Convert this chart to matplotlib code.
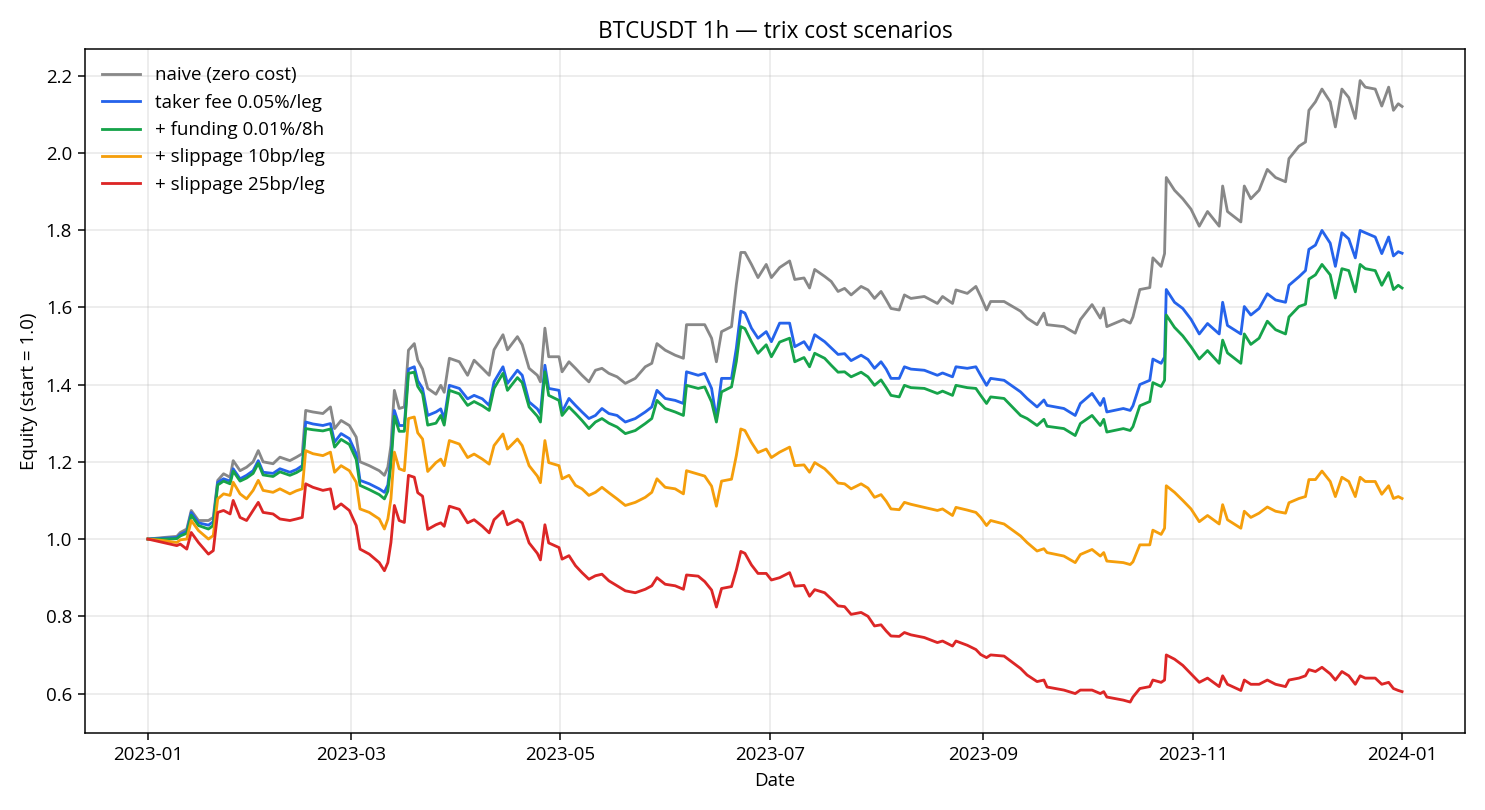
import pandas as pd
import matplotlib
matplotlib.use("Agg")
import matplotlib.pyplot as plt

plt.rcParams["font.family"] = ["Open Sans", "DejaVu Sans"]

# days since 2023-01-01
days = [0, 4.5, 8.4, 9.4, 11.3, 12.6, 14.7, 17.6, 19, 20.3, 22, 23.9, 24.8, 26.8, 28.7, 30.6,
        32.1, 33.5, 36.4, 38.4, 41.3, 43.2, 44.9, 45.9, 48, 50.9, 53.1, 54.3, 56.2, 58.6, 60.6,
        61.7, 64.4, 67.3, 68.8, 69.8, 70.7, 71.7, 73.1, 74.6, 75.8, 77.5, 78.5, 79.9, 81.4, 83.8,
        85.2, 86.2, 87.7, 90.6, 93, 94.9, 97.3, 99.3, 100.7, 103.3, 104.6, 107.5, 108.9, 110.9,
        113.3, 114.2, 115.5, 116.6,
        119.6, 120.5, 122.5, 124.4, 126.3, 128.3, 130.2, 132.1, 134.1, 136.5, 138.9, 141.8, 144.7,
        146.6, 148.1, 150.5, 153.4, 155.8,
        156.7, 160.1, 162, 164, 165.4, 166.9, 169.8, 171.2, 172.5, 173.7, 175.6, 177.5, 179.9,
        181.4, 183.8, 186.7, 188.2, 190.9, 192.5, 194,
        196.9, 198.8, 200.8, 202.7, 204.6, 207.5, 209.5, 211.4, 213.3, 214.8, 216.2, 218.6, 220.1,
        222, 225.9, 229.7, 231.2, 234.1, 235.1, 238.4, 240.9, 242.3, 244.0, 245.2, 249.1,
        253.9, 255.8, 258.7, 260.7, 261.6, 266.5, 269.8, 271.3, 274.7, 277.1, 278.1, 279, 283.8,
        285.8,
        286.6, 288.6, 291.5, 292.4, 294.8, 295.8, 296.3, 298.7, 301.1, 303.5, 305.9, 308.3, 311.7,
        312.7, 314.1, 318, 319, 320.9, 323.3, 325.7, 328.1, 331, 332, 334.9, 336.8, 337.8, 339.7,
        341.6, 344, 345.5, 347.4, 349.4, 351.3, 352.7, 354.2, 357.1, 359, 361, 362.4, 363.8, 364.9]

naive = [1.000, 1.004, 1.007, 1.017, 1.026, 1.074, 1.048, 1.048, 1.056, 1.152, 1.169, 1.160, 1.203,
         1.177, 1.186, 1.200, 1.229, 1.200, 1.195, 1.212, 1.203, 1.212, 1.221, 1.333, 1.329, 1.325,
         1.342, 1.286, 1.307, 1.294, 1.264, 1.200, 1.190, 1.177, 1.165, 1.186, 1.242, 1.385, 1.338,
         1.342, 1.489, 1.506, 1.463, 1.440, 1.390, 1.375,
         1.398, 1.380, 1.468, 1.459, 1.424, 1.463, 1.442, 1.424, 1.490, 1.529, 1.490, 1.524, 1.503,
         1.442, 1.424, 1.407, 1.546, 1.472,
         1.472, 1.433, 1.459, 1.442, 1.424, 1.407, 1.437, 1.442, 1.429, 1.420, 1.403, 1.416, 1.446,
         1.455, 1.506, 1.489, 1.476, 1.468,
         1.555, 1.555, 1.555, 1.520, 1.459, 1.537, 1.550, 1.659, 1.742, 1.742, 1.711, 1.677, 1.711,
         1.677, 1.703, 1.720, 1.672, 1.676, 1.650, 1.698,
         1.680, 1.667, 1.641, 1.649, 1.632, 1.654, 1.645, 1.623, 1.641, 1.619, 1.597, 1.593, 1.632,
         1.623, 1.628, 1.610, 1.628, 1.610, 1.645, 1.636, 1.654, 1.628, 1.593, 1.615, 1.615,
         1.590, 1.572, 1.555, 1.585, 1.555, 1.550, 1.533, 1.568, 1.607, 1.572, 1.598, 1.550, 1.568,
         1.559,
         1.575, 1.646, 1.651, 1.728, 1.706, 1.739, 1.936, 1.903, 1.881, 1.854, 1.810, 1.848, 1.810,
         1.914, 1.848, 1.821, 1.914, 1.881, 1.903, 1.957, 1.936, 1.925, 1.985, 2.017, 2.028, 2.110,
         2.132, 2.165, 2.132, 2.067, 2.165, 2.143, 2.089, 2.187, 2.170, 2.165, 2.121, 2.170, 2.110,
         2.127, 2.120]

taker = [1.000, 1.002, 1.004, 1.012, 1.020, 1.069, 1.042, 1.036, 1.045, 1.147, 1.156, 1.150, 1.182,
         1.156, 1.165, 1.177, 1.203, 1.173, 1.170, 1.182, 1.173, 1.180, 1.190, 1.303, 1.298, 1.294,
         1.299, 1.251, 1.273, 1.260, 1.221, 1.152, 1.143, 1.130, 1.121, 1.140, 1.208, 1.333, 1.294,
         1.294, 1.440, 1.446, 1.410, 1.390, 1.320, 1.329,
         1.337, 1.311, 1.398, 1.390, 1.363, 1.372, 1.363, 1.346, 1.407, 1.446, 1.403, 1.437, 1.424,
         1.355, 1.337, 1.324, 1.450, 1.390,
         1.385, 1.329, 1.364, 1.346, 1.329, 1.312, 1.320, 1.338, 1.325, 1.320, 1.303, 1.312, 1.329,
         1.342, 1.385, 1.364, 1.359, 1.351,
         1.433, 1.424, 1.429, 1.390, 1.311, 1.416, 1.416, 1.494, 1.590, 1.585, 1.546, 1.520, 1.537,
         1.511, 1.559, 1.559, 1.498, 1.511, 1.490, 1.529,
         1.511, 1.495, 1.478, 1.480, 1.462, 1.476, 1.465, 1.442, 1.459, 1.440, 1.416, 1.416, 1.446,
         1.440, 1.437, 1.424, 1.430, 1.420, 1.446, 1.442, 1.446, 1.424, 1.398, 1.416, 1.411,
         1.381, 1.364, 1.342, 1.360, 1.346, 1.338, 1.320, 1.351, 1.377, 1.346, 1.364, 1.329, 1.338,
         1.333,
         1.345, 1.400, 1.411, 1.466, 1.455, 1.471, 1.646, 1.613, 1.597, 1.569, 1.531, 1.558, 1.531,
         1.613, 1.553, 1.531, 1.602, 1.580, 1.597, 1.635, 1.619, 1.613, 1.657, 1.679, 1.695, 1.750,
         1.761, 1.799, 1.766, 1.706, 1.793, 1.777, 1.728, 1.799, 1.793, 1.782, 1.739, 1.782, 1.733,
         1.744, 1.740]

funding = [1.000, 1.000, 1.001, 1.008, 1.015, 1.062, 1.035, 1.026, 1.035, 1.140, 1.150, 1.143, 1.176,
           1.150, 1.158, 1.170, 1.196, 1.166, 1.162, 1.174, 1.165, 1.172, 1.181, 1.286, 1.283, 1.280,
           1.285, 1.238, 1.258, 1.245, 1.206, 1.139, 1.128, 1.115, 1.104, 1.124, 1.192, 1.318, 1.279,
           1.279, 1.429, 1.432, 1.395, 1.376, 1.295, 1.300,
           1.320, 1.295, 1.385, 1.376, 1.346, 1.356, 1.345, 1.333, 1.390, 1.429, 1.385, 1.418, 1.405,
           1.342, 1.318, 1.303, 1.433, 1.372,
           1.359, 1.320, 1.342, 1.325, 1.307, 1.286, 1.303, 1.312, 1.300, 1.290, 1.273, 1.281, 1.299,
           1.312, 1.359, 1.338, 1.329, 1.320,
           1.398, 1.390, 1.394, 1.355, 1.303, 1.381, 1.394, 1.460, 1.550, 1.545, 1.511, 1.481, 1.503,
           1.472, 1.510, 1.520, 1.459, 1.470, 1.446, 1.481,
           1.468, 1.450, 1.432, 1.433, 1.420, 1.432, 1.420, 1.398, 1.412, 1.392, 1.372, 1.368, 1.398,
           1.392, 1.390, 1.377, 1.383, 1.372, 1.398, 1.392, 1.390, 1.372, 1.351, 1.368, 1.364,
           1.320, 1.312, 1.294, 1.310, 1.292, 1.286, 1.268, 1.299, 1.320, 1.294, 1.310, 1.277, 1.286,
           1.281,
           1.291, 1.345, 1.356, 1.405, 1.395, 1.411, 1.580, 1.548, 1.526, 1.498, 1.466, 1.488, 1.455,
           1.515, 1.482, 1.455, 1.531, 1.504, 1.520, 1.564, 1.542, 1.531, 1.575, 1.602, 1.608, 1.673,
           1.684, 1.711, 1.684, 1.624, 1.700, 1.695, 1.640, 1.711, 1.700, 1.695, 1.657, 1.690, 1.646,
           1.657, 1.650]

slip10 = [1.000, 0.996, 0.991, 0.998, 1.000, 1.048, 1.022, 1.000, 1.009, 1.104, 1.117, 1.113, 1.147,
          1.117, 1.104, 1.126, 1.152, 1.126, 1.121, 1.130, 1.117, 1.125, 1.130, 1.229, 1.221, 1.216,
          1.225, 1.173, 1.190, 1.177, 1.147, 1.078, 1.069, 1.052, 1.026, 1.052, 1.104, 1.225, 1.182,
          1.177, 1.312, 1.316, 1.275, 1.259, 1.175, 1.198,
          1.207, 1.190, 1.255, 1.246, 1.211, 1.220, 1.207, 1.194, 1.242, 1.272, 1.233, 1.259, 1.242,
          1.190, 1.163, 1.146, 1.255, 1.198,
          1.190, 1.156, 1.165, 1.139, 1.130, 1.113, 1.121, 1.134, 1.120, 1.104, 1.087, 1.095, 1.108,
          1.121, 1.156, 1.134, 1.130, 1.117,
          1.177, 1.168, 1.163, 1.137, 1.085, 1.150, 1.155, 1.216, 1.285, 1.281, 1.250, 1.224, 1.233,
          1.211, 1.225, 1.238, 1.190, 1.192, 1.173, 1.198,
          1.182, 1.165, 1.145, 1.143, 1.130, 1.143, 1.132, 1.108, 1.115, 1.098, 1.078, 1.076, 1.095,
          1.090, 1.082, 1.074, 1.078, 1.061, 1.082, 1.075, 1.069, 1.056, 1.035, 1.048, 1.039,
          1.008, 0.991, 0.969, 0.975, 0.965, 0.956, 0.939, 0.960, 0.973, 0.956, 0.965, 0.943, 0.939,
          0.934,
          0.941, 0.985, 0.985, 1.023, 1.012, 1.028, 1.138, 1.121, 1.100, 1.078, 1.045, 1.061, 1.039,
          1.089, 1.050, 1.028, 1.072, 1.056, 1.067, 1.083, 1.072, 1.067, 1.094, 1.105, 1.110, 1.154,
          1.154, 1.176, 1.149, 1.110, 1.160, 1.149, 1.110, 1.160, 1.149, 1.149, 1.116, 1.138, 1.105,
          1.110, 1.105]

slip25 = [1.000, 0.991, 0.983, 0.987, 0.974, 1.017, 0.991, 0.961, 0.970, 1.069, 1.074, 1.065, 1.100,
          1.056, 1.048, 1.074, 1.095, 1.069, 1.065, 1.052, 1.048, 1.052, 1.056, 1.143, 1.134, 1.126,
          1.130, 1.078, 1.091, 1.074, 1.035, 0.974, 0.961, 0.939, 0.918, 0.939, 0.991, 1.087, 1.048,
          1.043, 1.165, 1.160, 1.120, 1.111, 1.025, 1.037,
          1.042, 1.033, 1.085, 1.077, 1.042, 1.050, 1.033, 1.016, 1.050, 1.072, 1.037, 1.050, 1.042,
          0.990, 0.963, 0.946, 1.037, 0.990,
          0.978, 0.948, 0.957, 0.931, 0.913, 0.896, 0.905, 0.909, 0.892, 0.879, 0.866, 0.861, 0.870,
          0.879, 0.900, 0.883, 0.879, 0.870,
          0.907, 0.904, 0.890, 0.868, 0.824, 0.872, 0.877, 0.920, 0.968, 0.963, 0.933, 0.911, 0.911,
          0.894, 0.900, 0.913, 0.878, 0.880, 0.852, 0.869,
          0.861, 0.845, 0.827, 0.825, 0.805, 0.810, 0.800, 0.775, 0.778, 0.762, 0.749, 0.748, 0.758,
          0.752, 0.745, 0.732, 0.736, 0.723, 0.736, 0.725, 0.714, 0.701, 0.693, 0.700, 0.697,
          0.665, 0.648, 0.631, 0.635, 0.617, 0.609, 0.600, 0.609, 0.609, 0.600, 0.605, 0.591, 0.583,
          0.578,
          0.591, 0.613, 0.618, 0.635, 0.629, 0.635, 0.700, 0.689, 0.673, 0.651, 0.629, 0.640, 0.618,
          0.646, 0.624, 0.608, 0.635, 0.624, 0.624, 0.635, 0.624, 0.618, 0.635, 0.640, 0.646, 0.662,
          0.657, 0.668, 0.651, 0.635, 0.657, 0.646, 0.624, 0.646, 0.640, 0.640, 0.624, 0.629, 0.613,
          0.608, 0.605]

labels = ["naive (zero cost)", "taker fee 0.05%/leg", "+ funding 0.01%/8h",
          "+ slippage 10bp/leg", "+ slippage 25bp/leg"]
colors = ["#888888", "#2563eb", "#16a34a", "#f59e0b", "#dc2626"]

dates = pd.Timestamp("2023-01-01") + pd.to_timedelta(days, unit="D")

fig, ax = plt.subplots(figsize=(11, 6), dpi=135)
for series, label, color in zip([naive, taker, funding, slip10, slip25], labels, colors):
    ax.plot(dates, series, label=label, color=color, linewidth=1.5)

ax.set_title("BTCUSDT 1h — trix cost scenarios", fontsize=12)
ax.set_xlabel("Date")
ax.set_ylabel("Equity (start = 1.0)")
ax.grid(True, alpha=0.3)
ax.legend(loc="upper left", frameon=False)
fig.tight_layout()
fig.savefig("out.png")
